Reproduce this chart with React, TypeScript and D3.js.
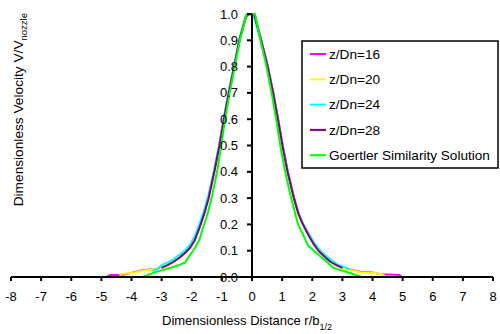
import React from "react";
import * as d3 from "d3";

// axis ticks
const xTicks = [-8, -7, -6, -5, -4, -3, -2, -1, 0, 1, 2, 3, 4, 5, 6, 7, 8];
const yTicks = [0, 0.1, 0.2, 0.3, 0.4, 0.5, 0.6, 0.7, 0.8, 0.9, 1.0];

// series: [r/b1/2, V/Vnozzle]
const z16: [number, number][] = [
  [-4.83, 0], [-4.7, 0.008], [-4.33, 0.008], [-4.0, 0.015], [-3.6, 0.027], [-3.15, 0.03],
  [-3.0, 0.04], [-2.8, 0.05], [-2.6, 0.062], [-2.4, 0.075], [-2.2, 0.095], [-2.05, 0.115],
  [-1.9, 0.145], [-1.75, 0.19], [-1.6, 0.24], [-1.45, 0.3], [-1.26, 0.4], [-1.09, 0.5],
  [-0.94, 0.6], [-0.78, 0.7], [-0.6, 0.8], [-0.42, 0.9], [-0.2, 0.99], [-0.1, 1.0],
  [0.08, 1.0], [0.31, 0.9], [0.53, 0.8], [0.71, 0.7], [0.87, 0.6], [1.02, 0.5],
  [1.19, 0.4], [1.4, 0.3], [1.55, 0.24], [1.7, 0.2], [1.9, 0.16], [2.05, 0.13],
  [2.25, 0.1], [2.45, 0.08], [2.65, 0.06], [2.85, 0.045], [3.05, 0.035], [3.3, 0.027],
  [3.6, 0.02], [4.0, 0.017], [4.3, 0.01], [4.9, 0.008], [4.97, 0],
];
const z20: [number, number][] = [
  [-4.4, 0.005], [-4.3, 0.012], [-3.95, 0.015], [-3.6, 0.025], [-3.2, 0.03], [-3.0, 0.042],
  [-2.8, 0.05], [-2.6, 0.064], [-2.4, 0.078], [-2.2, 0.098], [-2.05, 0.118], [-1.9, 0.148],
  [-1.75, 0.192], [-1.6, 0.245], [-1.45, 0.305], [-1.26, 0.4], [-1.08, 0.5], [-0.93, 0.6],
  [-0.77, 0.7], [-0.59, 0.8], [-0.43, 0.9], [-0.22, 0.99], [-0.12, 1.0], [0.06, 1.0],
  [0.29, 0.9], [0.51, 0.8], [0.69, 0.7], [0.85, 0.6], [1.0, 0.5], [1.17, 0.4],
  [1.38, 0.3], [1.53, 0.24], [1.68, 0.2], [1.88, 0.16], [2.03, 0.13], [2.22, 0.1],
  [2.42, 0.078], [2.62, 0.058], [2.82, 0.043], [3.02, 0.032], [3.3, 0.025], [3.6, 0.018],
  [4.0, 0.016], [4.25, 0.012], [4.4, 0.008],
];
const z24: [number, number][] = [
  [-3.3, 0.025], [-3.15, 0.03], [-3.0, 0.045], [-2.8, 0.055], [-2.6, 0.068], [-2.4, 0.085],
  [-2.2, 0.105], [-2.05, 0.125], [-1.9, 0.155], [-1.75, 0.2], [-1.6, 0.25], [-1.45, 0.31],
  [-1.27, 0.4], [-1.09, 0.5], [-0.94, 0.6], [-0.78, 0.7], [-0.6, 0.8], [-0.43, 0.9],
  [-0.21, 0.99], [-0.11, 1.0], [0.06, 0.99], [0.29, 0.9], [0.52, 0.8], [0.7, 0.7],
  [0.86, 0.6], [1.01, 0.5], [1.18, 0.4], [1.39, 0.3], [1.54, 0.245], [1.7, 0.2],
  [1.9, 0.162], [2.05, 0.133], [2.26, 0.1], [2.45, 0.082], [2.62, 0.065], [2.8, 0.05],
  [3.0, 0.04], [3.25, 0.03],
];
const z28: [number, number][] = [
  [-3.0, 0.035], [-2.8, 0.045], [-2.6, 0.058], [-2.4, 0.074], [-2.2, 0.094], [-2.05, 0.112],
  [-1.9, 0.14], [-1.75, 0.185], [-1.6, 0.235], [-1.45, 0.295], [-1.25, 0.4], [-1.08, 0.5],
  [-0.93, 0.6], [-0.77, 0.7], [-0.59, 0.8], [-0.42, 0.9], [-0.2, 0.99], [-0.1, 1.0],
  [0.07, 1.0], [0.3, 0.9], [0.52, 0.8], [0.7, 0.7], [0.86, 0.6], [1.01, 0.5],
  [1.18, 0.4], [1.39, 0.3], [1.54, 0.24], [1.69, 0.2], [1.88, 0.158], [2.03, 0.128],
  [2.22, 0.098], [2.42, 0.076], [2.6, 0.058], [2.8, 0.045], [3.0, 0.035],
];
const goertler: [number, number][] = [
  [-3.63, 0], [-3.3, 0.015], [-2.95, 0.027], [-2.7, 0.035], [-2.4, 0.046], [-2.22, 0.055],
  [-2.05, 0.085], [-1.95, 0.1], [-1.75, 0.14], [-1.62, 0.19], [-1.5, 0.23], [-1.34, 0.3],
  [-1.16, 0.4], [-1.02, 0.5], [-0.89, 0.6], [-0.74, 0.7], [-0.57, 0.8], [-0.4, 0.9],
  [-0.18, 1.0], [0.1, 1.0], [0.28, 0.9], [0.48, 0.8], [0.65, 0.7], [0.8, 0.6],
  [0.94, 0.5], [1.1, 0.4], [1.3, 0.3], [1.53, 0.2], [1.7, 0.16], [1.86, 0.12],
  [2.15, 0.09], [2.48, 0.058], [2.7, 0.035], [2.92, 0.027], [3.25, 0.015], [3.64, 0],
];

const seriesNames = ["z/Dn=16", "z/Dn=20", "z/Dn=24", "z/Dn=28", "Goertler Similarity Solution"];
const seriesColors = ["#FF00FF", "#FFFF00", "#00FFFF", "#800080", "#00FF00"];
const seriesData = [z16, z20, z24, z28, goertler];

const font = "'Liberation Sans', Arial, sans-serif";

export default function App() {
  const width = 500;
  const height = 334;

  const x = d3.scaleLinear().domain([-8, 8]).range([11, 493]);
  const y = d3.scaleLinear().domain([0, 1]).range([277, 14]);

  const line = d3
    .line<[number, number]>()
    .x((d) => x(d[0]))
    .y((d) => y(d[1]));

  const legX = 302;
  const legY = 41;

  return (
    <svg
      width={width}
      height={height}
      style={{ position: "absolute", left: 0, top: 0, background: "#fff" }}
      fontFamily={font}
    >
      {/* series */}
      {seriesData.map((s, i) => (
        <path
          key={seriesNames[i]}
          d={line(s) || ""}
          fill="none"
          stroke={seriesColors[i]}
          strokeWidth={2}
          strokeLinejoin="round"
        />
      ))}

      {/* y axis */}
      <line x1={x(0)} x2={x(0)} y1={y(0)} y2={y(1)} stroke="#000" strokeWidth={2} />
      {yTicks.map((t) => (
        <g key={t}>
          <line x1={x(0) - 5} x2={x(0)} y1={y(t)} y2={y(t)} stroke="#000" strokeWidth={2} />
          <text x={x(0) - 14} y={y(t)} dy="0.35em" textAnchor="end" fontSize={13} fill="#000">
            {t.toFixed(1)}
          </text>
        </g>
      ))}

      {/* x axis */}
      <line x1={x(-8)} x2={x(8)} y1={y(0)} y2={y(0)} stroke="#000" strokeWidth={2} />
      {xTicks.map((t) => (
        <g key={t}>
          <line x1={x(t)} x2={x(t)} y1={y(0)} y2={y(0) + 4} stroke="#000" strokeWidth={2} />
          <text x={x(t)} y={301} textAnchor="middle" fontSize={13} fill="#000">
            {t}
          </text>
        </g>
      ))}

      {/* axis titles */}
      <text x={162} y={325} fontSize={13} fill="#000">
        Dimensionless Distance r/b
        <tspan fontSize={9} dy={5}>1/2</tspan>
      </text>
      <text transform="translate(23,13) rotate(-90)" textAnchor="end" fontSize={13.7} fill="#000">
        Dimensionless Velocity V/V
        <tspan fontSize={9.5} dy={4}>nozzle</tspan>
      </text>

      {/* legend */}
      <rect x={legX} y={legY} width={196} height={127} fill="#fff" stroke="#000" strokeWidth={1.5} />
      {seriesNames.map((n, i) => {
        const cy = legY + 13 + i * 25.3;
        return (
          <g key={n}>
            <line x1={legX + 8} x2={legX + 24} y1={cy} y2={cy} stroke={seriesColors[i]} strokeWidth={2} />
            <text x={legX + 27} y={cy} dy="0.35em" fontSize={13.6} fill="#000">
              {n}
            </text>
          </g>
        );
      })}
    </svg>
  );
}
